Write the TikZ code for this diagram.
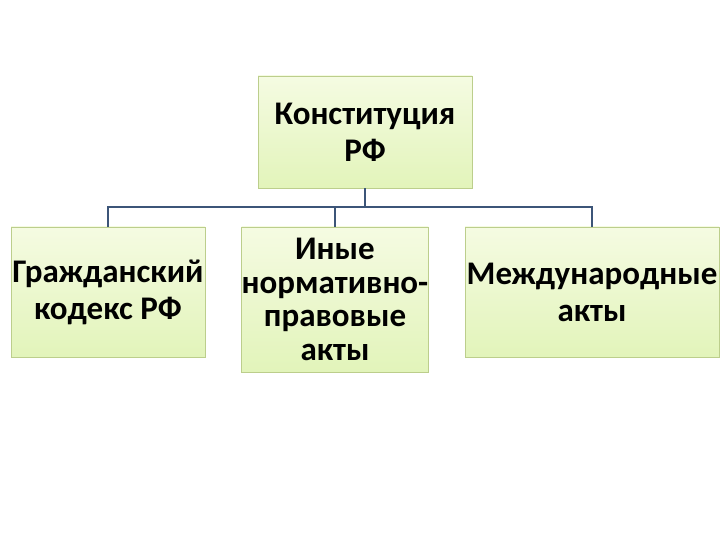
\documentclass[tikz,border=0pt]{standalone}
\usepackage{fontspec}
\setmainfont{Carlito}
\usepackage{tikz}

\definecolor{boxline}{RGB}{188,206,140}
\definecolor{boxtop}{RGB}{245,251,226}
\definecolor{boxbottom}{RGB}{226,244,186}
\definecolor{linkline}{RGB}{60,85,120}

\begin{document}
\begin{tikzpicture}[x=1pt, y=-1pt,
    actbox/.style={draw=boxline, line width=0.8pt,
        top color=boxtop, bottom color=boxbottom,
        align=center, inner sep=0pt,
        font=\fontsize{33}{37}\selectfont\bfseries},
    link/.style={draw=linkline, line width=1.4pt}]
            \useasboundingbox (0,0) rectangle (720,540);

            \node[actbox, minimum width=214pt, minimum height=112pt] (constitution) at (365, 132) {Конституция\\РФ};

            \node[actbox, minimum width=194pt, minimum height=130pt] (civil) at (108, 292) {Гражданский\\кодекс РФ};
            \node[actbox, minimum width=185pt, minimum height=145pt,
                font=\fontsize{33}{33.5}\selectfont\bfseries] (other) at (335, 299.5) {Иные\\нормативно-\\правовые\\акты};
            \node[actbox, minimum width=254pt, minimum height=130pt] (intl) at (592, 292) {Международные\\акты};

            \coordinate (bus) at (365, 207);

            \draw[link] (constitution.south) -- (bus);
            \draw[link] (civil.north) |- (bus);
            \draw[link] (other.north) |- (bus);
            \draw[link] (intl.north) |- (bus);
        \end{tikzpicture}
\end{document}
